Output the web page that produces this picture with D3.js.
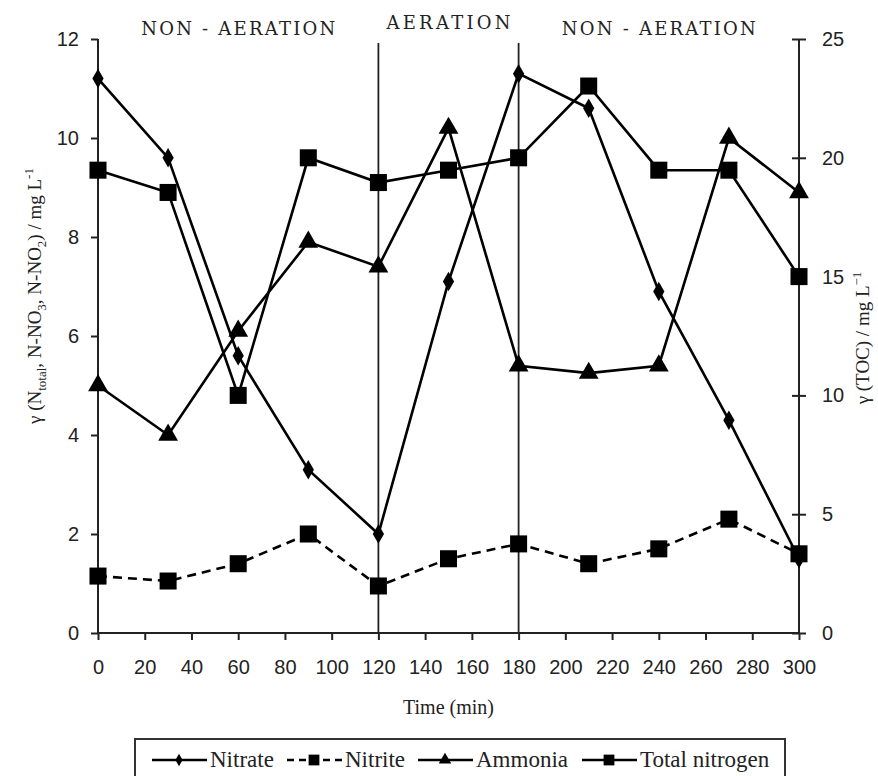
<!DOCTYPE html>
<html>
<head>
<meta charset="utf-8">
<script src="https://cdn.jsdelivr.net/npm/d3@7"></script>
<style>
  body { margin: 0; background: #fff; }
  svg { display: block; }
  .tick text { font-family: "Liberation Sans Narrow", "Liberation Sans", Arial, sans-serif; }
</style>
</head>
<body>
<div id="chart"></div>
<script>
// time points (min)
const times = [0, 30, 60, 90, 120, 150, 180, 210, 240, 270, 300];
const nitrate = [11.2, 9.6, 5.6, 3.3, 2.0, 7.1, 11.3, 10.6, 6.9, 4.3, 1.5];
const nitrite = [1.15, 1.05, 1.4, 2.0, 0.95, 1.5, 1.8, 1.4, 1.7, 2.3, 1.6];
const ammonia = [5.0, 4.0, 6.1, 7.9, 7.4, 10.2, 5.4, 5.25, 5.4, 10.0, 8.9];
const totalN = [9.35, 8.9, 4.8, 9.6, 9.1, 9.35, 9.6, 11.05, 9.35, 9.35, 7.2];

const xTicks = d3.range(0, 301, 20);
const yLeftTicks = [0, 2, 4, 6, 8, 10, 12];
const yRightTicks = [0, 5, 10, 15, 20, 25];
const phaseBounds = [120, 180];
const phases = [
  {label: "NON - AERATION", at: 60, dy: 0},
  {label: "AERATION", at: 150, dy: -6},
  {label: "NON - AERATION", at: 240, dy: 0}
];

const W = 878, H = 776;
const margin = {top: 39, left: 98, right: 79, bottom: 143};
const width = W - margin.left - margin.right,
      height = H - margin.top - margin.bottom;

const svg = d3.select("#chart").append("svg")
  .attr("width", W).attr("height", H);

const g = svg.append("g")
  .attr("transform", "translate(" + margin.left + "," + margin.top + ")");

const x = d3.scaleLinear().domain([0, 300]).range([0, width]);
const y = d3.scaleLinear().domain([0, 12]).range([height, 0]);
const y2 = d3.scaleLinear().domain([0, 25]).range([height, 0]);

// axes
const xAxis = g.append("g")
  .attr("transform", "translate(0," + height + ")")
  .call(d3.axisBottom(x).tickValues(xTicks).tickSize(7).tickPadding(20));
const yAxis = g.append("g")
  .call(d3.axisLeft(y).tickValues(yLeftTicks).tickSize(7).tickPadding(12));
const y2Axis = g.append("g")
  .attr("transform", "translate(" + width + ",0)")
  .call(d3.axisRight(y2).tickValues(yRightTicks).tickSize(7).tickPadding(16));
y2Axis.selectAll(".tick line").attr("x1", -7);

[xAxis, yAxis, y2Axis].forEach(a => {
  a.select(".domain").attr("stroke", "#222").attr("stroke-width", 2);
  a.selectAll(".tick line").attr("stroke", "#222").attr("stroke-width", 2);
  a.selectAll(".tick text").attr("font-size", 20).attr("fill", "#222");
});
xAxis.select(".domain").attr("d", "M0,0H" + width);
yAxis.select(".domain").attr("d", "M0,0V" + height);
y2Axis.select(".domain").attr("d", "M0,0V" + height);

// phase boundaries
g.selectAll(".phase-line")
  .data(phaseBounds)
  .enter().append("line")
    .attr("x1", d => x(d)).attr("x2", d => x(d))
    .attr("y1", 4).attr("y2", height)
    .attr("stroke", "#222").attr("stroke-width", 1.8);

g.selectAll(".phase-label")
  .data(phases)
  .enter().append("text")
    .attr("x", d => x(d.at))
    .attr("y", d => -4 + d.dy)
    .attr("text-anchor", "middle")
    .attr("font-family", "DejaVu Serif, serif")
    .attr("font-size", 18)
    .attr("textLength", d => d.label.length > 10 ? 194 : 124)
    .attr("fill", "#222")
    .text(d => d.label);

// series
const series = [
  {name: "Nitrate", values: nitrate, symbol: d3.symbolDiamond, size: 110, dash: null},
  {name: "Nitrite", values: nitrite, symbol: d3.symbolSquare, size: 290, dash: "9,6"},
  {name: "Ammonia", values: ammonia, symbol: d3.symbolTriangle, size: 170, dash: null},
  {name: "Total nitrogen", values: totalN, symbol: d3.symbolSquare, size: 290, dash: null}
];

const line = d3.line()
  .x((d, i) => x(times[i]))
  .y(d => y(d));

series.forEach(s => {
  g.append("path")
    .datum(s.values)
    .attr("fill", "none")
    .attr("stroke", "#000")
    .attr("stroke-width", 2.6)
    .attr("stroke-dasharray", s.dash)
    .attr("d", line);
  g.selectAll(null)
    .data(s.values)
    .enter().append("path")
      .attr("transform", (d, i) => "translate(" + x(times[i]) + "," + y(d) + ")")
      .attr("d", d3.symbol().type(s.symbol).size(s.size))
      .attr("fill", "#000");
});

// axis titles
svg.append("text")
  .attr("x", margin.left + width / 2)
  .attr("y", 714)
  .attr("text-anchor", "middle")
  .attr("font-family", "Liberation Serif, serif")
  .attr("font-size", 20)
  .attr("fill", "#222")
  .text("Time (min)");

const leftTitle = svg.append("text")
  .attr("transform", "translate(41,296) rotate(-90)")
  .attr("text-anchor", "middle")
  .attr("font-family", "Liberation Serif, serif")
  .attr("font-size", 19)
  .attr("fill", "#222");
leftTitle.append("tspan").text("γ (N");
leftTitle.append("tspan").attr("font-size", 13).attr("dy", 5).text("total");
leftTitle.append("tspan").attr("dy", -5).text(", N-NO");
leftTitle.append("tspan").attr("font-size", 13).attr("dy", 5).text("3");
leftTitle.append("tspan").attr("dy", -5).text(", N-NO");
leftTitle.append("tspan").attr("font-size", 13).attr("dy", 5).text("2");
leftTitle.append("tspan").attr("dy", -5).text(") / mg L");
leftTitle.append("tspan").attr("font-size", 13).attr("dy", -8).text("-1");

const rightTitle = svg.append("text")
  .attr("transform", "translate(869,338) rotate(-90)")
  .attr("text-anchor", "middle")
  .attr("font-family", "Liberation Serif, serif")
  .attr("font-size", 19)
  .attr("fill", "#222");
rightTitle.append("tspan").text("γ (TOC) / mg L");
rightTitle.append("tspan").attr("font-size", 13).attr("dy", -8).text("−1");

// legend
const legend = svg.append("g").attr("transform", "translate(135,739)");
legend.append("rect")
  .attr("width", 650).attr("height", 45)
  .attr("fill", "#fff").attr("stroke", "#333").attr("stroke-width", 2);

const legendX = [17, 152, 283, 447];
series.forEach((s, i) => {
  const lg = legend.append("g").attr("transform", "translate(" + legendX[i] + ",21)");
  lg.append("line")
    .attr("x1", 0).attr("x2", 55)
    .attr("stroke", "#000").attr("stroke-width", 2.6)
    .attr("stroke-dasharray", s.dash ? "7,5" : null);
  lg.append("path")
    .attr("transform", "translate(27,0)")
    .attr("d", d3.symbol().type(s.symbol).size(s.size * 0.4))
    .attr("fill", "#000");
  lg.append("text")
    .attr("x", 58).attr("y", 7)
    .attr("font-family", "Liberation Serif, serif")
    .attr("font-size", 23)
    .attr("fill", "#222")
    .text(s.name);
});
</script>
</body>
</html>
